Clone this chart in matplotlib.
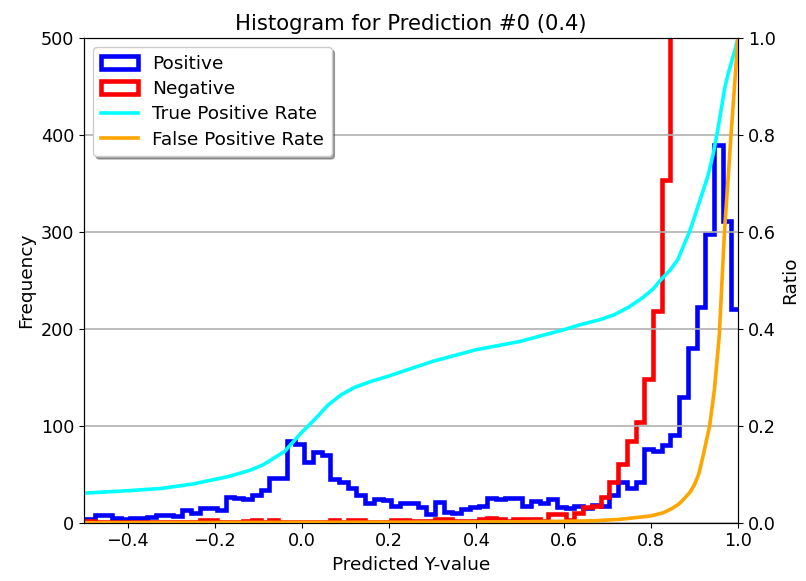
import numpy as np
import matplotlib
matplotlib.use('Agg')
import matplotlib.pyplot as plt

# histogram bins (width 0.02)
bin_edges = np.linspace(-0.515, 1.005, 77)

positive_counts = [
    4, 4, 8, 8, 5, 4, 5, 5, 6, 8, 8, 7, 13, 10, 15, 15, 13, 27, 26, 24,
    29, 34, 46, 46, 84, 81, 63, 73, 70, 45, 42, 36, 29, 20, 24, 23, 17, 20, 20, 16,
    9, 21, 11, 10, 14, 16, 17, 25, 24, 26, 26, 17, 22, 20, 24, 16, 15, 17, 15, 18,
    17, 29, 42, 36, 42, 76, 74, 80, 91, 130, 180, 223, 298, 390, 311, 220,
]
negative_counts = [
    2, 2, 1, 1, 1, 1, 1, 1, 1, 1, 1, 1, 1, 1, 3, 3, 1, 1, 1, 2,
    3, 1, 3, 1, 1, 1, 1, 1, 1, 3, 1, 3, 3, 1, 1, 1, 3, 3, 2, 2,
    2, 4, 4, 2, 2, 2, 4, 5, 4, 2, 4, 4, 4, 2, 9, 9, 3, 10, 16, 17,
    27, 42, 61, 84, 104, 148, 218, 354, 620, 780, 950, 1130, 1320, 1500, 1680, 1850,
]

tpr_x = [-0.5, -0.4, -0.32, -0.25, -0.17, -0.12, -0.09, -0.04, 0.0, 0.03, 0.06, 0.09,
         0.12, 0.16, 0.2, 0.3, 0.4, 0.5, 0.6, 0.64, 0.68, 0.716, 0.75, 0.781, 0.805,
         0.824, 0.845, 0.862, 0.877, 0.89, 0.9, 0.916, 0.931, 0.943, 0.954, 0.962,
         0.969, 0.977, 0.985, 0.993, 1.0]
tpr = [0.061, 0.066, 0.071, 0.080, 0.095, 0.108, 0.119, 0.147, 0.187, 0.214, 0.243, 0.264,
       0.279, 0.292, 0.303, 0.333, 0.357, 0.374, 0.398, 0.409, 0.418, 0.429, 0.445, 0.464,
       0.482, 0.502, 0.522, 0.543, 0.575, 0.603, 0.63, 0.674, 0.715, 0.76, 0.812, 0.855,
       0.894, 0.925, 0.95, 0.975, 1.0]

fpr_x = [-0.5, 0.2, 0.5, 0.6, 0.67, 0.73, 0.8, 0.83, 0.85, 0.865, 0.877, 0.89, 0.9,
         0.91, 0.92, 0.935, 0.946, 0.957, 0.969, 0.985, 1.0]
fpr = [0.0, 0.001, 0.002, 0.003, 0.004, 0.007, 0.014, 0.021, 0.03, 0.039, 0.05, 0.063,
       0.078, 0.1, 0.138, 0.2, 0.275, 0.385, 0.6, 0.812, 1.0]

fig = plt.figure(figsize=(8.06, 5.81), dpi=100)
ax = fig.add_axes([0.1042, 0.1003, 0.8114, 0.8343])

centers = bin_edges[:-1] + 0.01
ax.hist(centers, bins=bin_edges, weights=positive_counts, histtype='step',
        color='blue', linewidth=3.3, label='Positive')
ax.hist(centers, bins=bin_edges, weights=negative_counts, histtype='step',
        color='red', linewidth=3.3, label='Negative')
ax.set_xlim(-0.5, 1.0)
ax.set_ylim(0, 500)
ax.set_xlabel('Predicted Y-value', fontsize=13.3)
ax.set_ylabel('Frequency', fontsize=13.3)
ax.tick_params(labelsize=12.7)
ax.set_title('Histogram for Prediction #0 (0.4)', fontsize=15.2)

ax2 = ax.twinx()
ax2.plot(tpr_x, tpr, color='cyan', linewidth=2.6, label='True Positive Rate')
ax2.plot(fpr_x, fpr, color='orange', linewidth=2.6, label='False Positive Rate')
ax2.set_ylim(0, 1)
ax2.set_ylabel('Ratio', fontsize=13.3)
ax2.tick_params(labelsize=12.7)
ax2.grid(axis='y', color='#b0b0b0', linewidth=1.2)

h1, l1 = ax.get_legend_handles_labels()
h2, l2 = ax2.get_legend_handles_labels()
ax2.legend(h1 + h2, l1 + l2, loc='upper left', fontsize=13.3, shadow=True,
           framealpha=1, handlelength=2.0, labelspacing=0.4)

plt.savefig('out.png', dpi=100)
